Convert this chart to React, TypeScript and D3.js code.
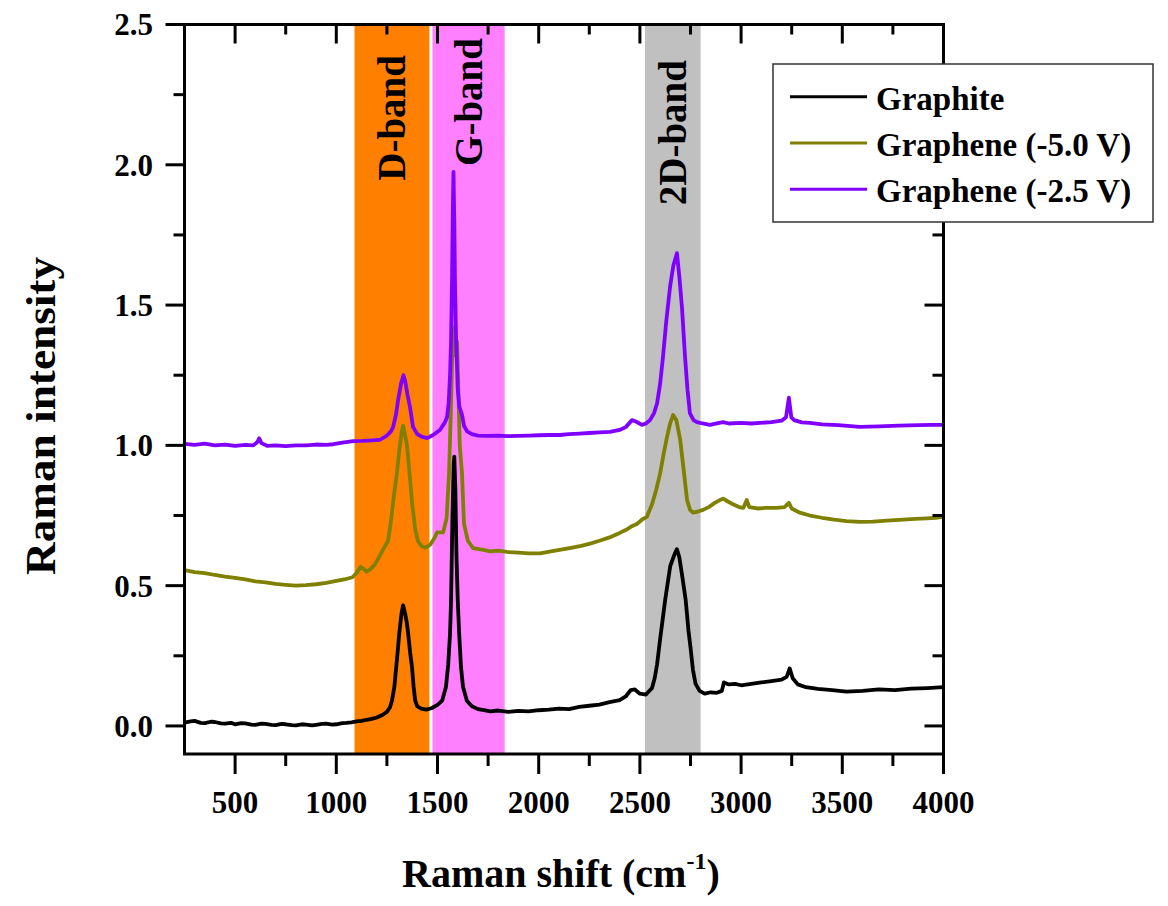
import React from 'react';
import * as d3 from 'd3';

type Pt = [number, number];

// Raman spectra: [wavenumber (cm^-1), intensity]
const GRAPHITE: Pt[] = [
  [250, 0.012], [280, 0.016], [300, 0.018], [330, 0.011], [350, 0.010], [380, 0.015], [400, 0.014],
  [430, 0.009], [450, 0.008], [480, 0.011], [500, 0.006], [530, 0.010], [550, 0.009], [580, 0.005],
  [600, 0.004], [630, 0.008], [650, 0.007], [680, 0.004], [700, 0.003], [730, 0.007], [750, 0.006],
  [780, 0.003], [800, 0.002], [830, 0.006], [850, 0.005], [880, 0.002], [900, 0.004], [930, 0.007],
  [950, 0.008], [980, 0.005], [1000, 0.006], [1030, 0.010], [1050, 0.011], [1075, 0.013], [1100, 0.016],
  [1125, 0.018], [1150, 0.022], [1175, 0.025], [1200, 0.030], [1230, 0.040], [1250, 0.050], [1265, 0.066],
  [1275, 0.090], [1287, 0.140], [1296, 0.21], [1304, 0.27], [1311, 0.33], [1322, 0.40], [1330, 0.43],
  [1340, 0.40], [1348, 0.37], [1355, 0.33], [1365, 0.26], [1374, 0.21], [1382, 0.14], [1390, 0.09],
  [1400, 0.070], [1420, 0.062], [1445, 0.058], [1470, 0.063], [1500, 0.075], [1523, 0.09], [1542, 0.14],
  [1553, 0.22], [1562, 0.33], [1567, 0.45], [1574, 0.75], [1580, 0.93], [1583, 0.96], [1588, 0.85],
  [1594, 0.60], [1600, 0.45], [1607, 0.33], [1616, 0.21], [1626, 0.14], [1645, 0.09], [1670, 0.070],
  [1700, 0.060], [1730, 0.056], [1760, 0.052], [1800, 0.055], [1850, 0.050], [1900, 0.054], [1950, 0.052],
  [2000, 0.056], [2050, 0.058], [2100, 0.062], [2150, 0.060], [2200, 0.068], [2250, 0.072], [2300, 0.076],
  [2350, 0.085], [2400, 0.092], [2430, 0.105], [2455, 0.128], [2475, 0.130], [2500, 0.115], [2530, 0.112],
  [2560, 0.135], [2573, 0.17], [2585, 0.22], [2600, 0.31], [2625, 0.45], [2650, 0.57], [2670, 0.61],
  [2683, 0.63], [2695, 0.60], [2710, 0.53], [2726, 0.45], [2740, 0.34], [2750, 0.28], [2762, 0.20],
  [2775, 0.15], [2795, 0.125], [2820, 0.115], [2850, 0.120], [2880, 0.118], [2905, 0.125], [2915, 0.155],
  [2940, 0.148], [2970, 0.150], [3000, 0.145], [3050, 0.150], [3100, 0.155], [3150, 0.160], [3200, 0.165],
  [3225, 0.175], [3240, 0.205], [3255, 0.170], [3280, 0.148], [3320, 0.138], [3380, 0.132], [3450, 0.128],
  [3520, 0.122], [3600, 0.125], [3680, 0.130], [3760, 0.128], [3840, 0.133], [3920, 0.135], [4000, 0.138],
];

const GRAPHENE_5V: Pt[] = [
  [250, 0.555], [300, 0.548], [350, 0.545], [400, 0.538], [450, 0.532], [500, 0.528], [550, 0.522],
  [600, 0.515], [650, 0.512], [700, 0.506], [750, 0.503], [800, 0.500], [850, 0.502], [900, 0.505],
  [950, 0.510], [1000, 0.517], [1040, 0.522], [1080, 0.530], [1100, 0.545], [1120, 0.567], [1135, 0.560],
  [1150, 0.550], [1170, 0.560], [1190, 0.575], [1210, 0.600], [1232, 0.630], [1256, 0.660], [1270, 0.730],
  [1282, 0.805], [1299, 0.900], [1314, 1.000], [1324, 1.050], [1330, 1.070], [1336, 1.050], [1349, 1.000],
  [1362, 0.900], [1375, 0.790], [1390, 0.700], [1403, 0.660], [1420, 0.642], [1440, 0.635], [1463, 0.645],
  [1485, 0.670], [1498, 0.690], [1515, 0.690], [1528, 0.690], [1545, 0.740], [1557, 0.900], [1565, 1.100],
  [1572, 1.300], [1578, 1.420], [1584, 1.340], [1590, 1.320], [1597, 1.370], [1603, 1.200], [1610, 1.000],
  [1621, 0.900], [1631, 0.720], [1650, 0.660], [1676, 0.634], [1720, 0.628], [1760, 0.622], [1800, 0.625],
  [1844, 0.620], [1900, 0.618], [1950, 0.615], [2007, 0.615], [2060, 0.622], [2110, 0.628], [2160, 0.635],
  [2210, 0.642], [2254, 0.650], [2300, 0.660], [2350, 0.672], [2400, 0.688], [2435, 0.700], [2460, 0.712],
  [2485, 0.720], [2510, 0.735], [2534, 0.745], [2560, 0.790], [2580, 0.840], [2600, 0.900], [2620, 0.980],
  [2634, 1.030], [2650, 1.080], [2664, 1.108], [2680, 1.090], [2699, 1.020], [2715, 0.920], [2733, 0.805],
  [2748, 0.770], [2763, 0.760], [2790, 0.765], [2812, 0.770], [2840, 0.780], [2870, 0.795], [2895, 0.805],
  [2911, 0.810], [2935, 0.800], [2960, 0.790], [2990, 0.780], [3011, 0.777], [3028, 0.805], [3040, 0.780],
  [3080, 0.775], [3120, 0.777], [3176, 0.777], [3215, 0.780], [3236, 0.795], [3250, 0.775], [3290, 0.760],
  [3340, 0.750], [3400, 0.742], [3460, 0.735], [3520, 0.730], [3587, 0.727], [3650, 0.728], [3720, 0.732],
  [3800, 0.735], [3860, 0.738], [3919, 0.740], [3960, 0.742], [4000, 0.745],
];

const GRAPHENE_2_5V: Pt[] = [
  [250, 1.005], [300, 1.002], [350, 1.006], [400, 1.000], [450, 1.003], [500, 0.998], [550, 1.002],
  [590, 1.000], [610, 1.012], [619, 1.025], [630, 1.008], [660, 0.998], [700, 1.000], [750, 0.997],
  [800, 1.000], [850, 1.000], [900, 1.003], [950, 1.002], [985, 1.004], [1030, 1.010], [1084, 1.015],
  [1130, 1.016], [1180, 1.018], [1216, 1.020], [1250, 1.035], [1270, 1.050], [1281, 1.066], [1295, 1.110],
  [1305, 1.160], [1320, 1.220], [1332, 1.250], [1340, 1.230], [1352, 1.180], [1364, 1.137], [1379, 1.066],
  [1400, 1.040], [1424, 1.030], [1450, 1.026], [1478, 1.037], [1512, 1.055], [1535, 1.080], [1547, 1.100],
  [1555, 1.150], [1562, 1.250], [1567, 1.375], [1572, 1.600], [1576, 1.850], [1579, 1.975], [1583, 1.800],
  [1587, 1.550], [1592, 1.375], [1600, 1.200], [1608, 1.137], [1621, 1.110], [1631, 1.070], [1646, 1.050],
  [1670, 1.040], [1700, 1.035], [1750, 1.034], [1800, 1.035], [1850, 1.033], [1900, 1.034], [1950, 1.035],
  [2000, 1.036], [2050, 1.037], [2105, 1.037], [2150, 1.040], [2200, 1.042], [2250, 1.044], [2300, 1.046],
  [2352, 1.048], [2400, 1.055], [2430, 1.065], [2461, 1.090], [2480, 1.085], [2510, 1.073], [2530, 1.078],
  [2550, 1.090], [2570, 1.115], [2585, 1.150], [2600, 1.220], [2614, 1.315], [2630, 1.440], [2649, 1.565],
  [2665, 1.640], [2683, 1.685], [2695, 1.600], [2708, 1.490], [2723, 1.315], [2735, 1.200], [2747, 1.115],
  [2765, 1.090], [2782, 1.083], [2810, 1.078], [2846, 1.073], [2880, 1.078], [2911, 1.083], [2940, 1.078],
  [3000, 1.080], [3050, 1.078], [3094, 1.080], [3150, 1.083], [3200, 1.088], [3222, 1.100], [3236, 1.170],
  [3248, 1.100], [3262, 1.090], [3300, 1.082], [3340, 1.080], [3400, 1.075], [3480, 1.072], [3587, 1.066],
  [3680, 1.068], [3780, 1.070], [3880, 1.072], [3940, 1.073], [4000, 1.073],
];

const SERIES_NAMES = ['Graphite', 'Graphene (-5.0 V)', 'Graphene (-2.5 V)'];
const SERIES_COLORS = ['#000000', '#808000', '#8000FF'];
const SERIES_DATA = [GRAPHITE, GRAPHENE_5V, GRAPHENE_2_5V];
// drawing order: olive first, then black, then violet on top
const DRAW_ORDER = [1, 0, 2];

const BAND_LABELS = ['D-band', 'G-band', '2D-band'];
const BAND_FROM = [1090, 1475, 2525];
const BAND_TO = [1460, 1832, 2800];
const BAND_COLORS = ['#FF8000', '#FF80FF', '#C0C0C0'];

const X_DOMAIN: [number, number] = [250, 4000];
const Y_DOMAIN: [number, number] = [-0.1, 2.5];
const X_TICKS = [500, 1000, 1500, 2000, 2500, 3000, 3500, 4000];
const X_MINOR = [750, 1250, 1750, 2250, 2750, 3250, 3750];
const Y_TICKS = [0, 0.5, 1.0, 1.5, 2.0, 2.5];
const Y_MINOR = [0.25, 0.75, 1.25, 1.75, 2.25];

const FONT = "'Liberation Serif', 'Times New Roman', Times, serif";

export default function App() {
  const W = 1168;
  const H = 906;
  const left = 184.5, right = 943.5, top = 24.5, bottom = 754;

  const x = d3.scaleLinear().domain(X_DOMAIN).range([left, right]);
  const y = d3.scaleLinear().domain(Y_DOMAIN).range([bottom, top]);
  const line = d3.line<Pt>().x(d => x(d[0])).y(d => y(d[1]));

  const majorLen = 19;
  const minorLen = 11;
  const bandLabelTop = [55, 38, 60];

  return (
    <svg
      width={W}
      height={H}
      style={{ position: 'absolute', left: 0, top: 0, background: '#fff' }}
      fontFamily={FONT}
      fontWeight="bold"
    >
      <defs>
        <clipPath id="plot-clip">
          <rect x={left} y={top} width={right - left} height={bottom - top} />
        </clipPath>
      </defs>

      {/* highlighted Raman bands */}
      {BAND_LABELS.map((label, i) => {
        const x0 = x(BAND_FROM[i]);
        const x1 = x(BAND_TO[i]);
        return <rect key={label} x={x0} y={top} width={x1 - x0} height={bottom - top} fill={BAND_COLORS[i]} />;
      })}

      {/* spectra */}
      <g clipPath="url(#plot-clip)">
        {DRAW_ORDER.map(i => (
          <path
            key={SERIES_NAMES[i]}
            d={line(SERIES_DATA[i]) || ''}
            fill="none"
            stroke={SERIES_COLORS[i]}
            strokeWidth={3.8}
            strokeLinejoin="round"
          />
        ))}
      </g>

      {/* band labels */}
      {BAND_LABELS.map((label, i) => {
        const cx = (x(BAND_FROM[i]) + x(BAND_TO[i])) / 2;
        const ty = bandLabelTop[i];
        return (
          <text
            key={label}
            transform={`translate(${cx},${ty}) rotate(-90)`}
            textAnchor="end"
            dy="0.34em"
            fontSize={39}
            fill="#000"
          >
            {label}
          </text>
        );
      })}

      {/* frame */}
      <rect x={left} y={top} width={right - left} height={bottom - top} fill="none" stroke="#000" strokeWidth={3} />

      {/* x ticks */}
      {X_TICKS.map(t => (
        <g key={`xt${t}`}>
          <line x1={x(t)} x2={x(t)} y1={bottom} y2={bottom + majorLen + 1} stroke="#000" strokeWidth={3} />
          <line x1={x(t)} x2={x(t)} y1={top} y2={top + majorLen} stroke="#000" strokeWidth={3} />
          <text x={x(t)} y={813} textAnchor="middle" fontSize={31} fill="#000">
            {t}
          </text>
        </g>
      ))}
      {X_MINOR.map(t => (
        <g key={`xm${t}`}>
          <line x1={x(t)} x2={x(t)} y1={bottom} y2={bottom + minorLen + 1} stroke="#000" strokeWidth={3} />
          <line x1={x(t)} x2={x(t)} y1={top} y2={top + minorLen - 1} stroke="#000" strokeWidth={3} />
        </g>
      ))}

      {/* y ticks */}
      {Y_TICKS.map(t => (
        <g key={`yt${t}`}>
          <line x1={left - majorLen} x2={left} y1={y(t)} y2={y(t)} stroke="#000" strokeWidth={3} />
          <line x1={right - majorLen} x2={right} y1={y(t)} y2={y(t)} stroke="#000" strokeWidth={3} />
          <text x={153} y={y(t)} dy="0.35em" textAnchor="end" fontSize={31} fill="#000">
            {d3.format('.1f')(t)}
          </text>
        </g>
      ))}
      {Y_MINOR.map(t => (
        <g key={`ym${t}`}>
          <line x1={left - minorLen} x2={left} y1={y(t)} y2={y(t)} stroke="#000" strokeWidth={3} />
          <line x1={right - minorLen} x2={right} y1={y(t)} y2={y(t)} stroke="#000" strokeWidth={3} />
        </g>
      ))}

      {/* axis titles */}
      <text
        transform="translate(55,416) rotate(-90)"
        textAnchor="middle"
        fontSize={43}
        textLength={318}
        lengthAdjust="spacingAndGlyphs"
        fill="#000"
      >
        Raman intensity
      </text>
      <text x={402} y={887} fontSize={40} fill="#000">
        Raman shift (cm
        <tspan fontSize={24} dy={-18}>-1</tspan>
        <tspan dy={18}>)</tspan>
      </text>

      {/* legend */}
      <g>
        <rect x={773} y={64} width={380} height={158} fill="#fff" stroke="#333" strokeWidth={1.5} />
        {SERIES_NAMES.map((name, i) => {
          const ly = 96.7 + i * 46.3;
          return (
            <g key={name}>
              <line x1={790} x2={867} y1={ly} y2={ly} stroke={SERIES_COLORS[i]} strokeWidth={3} />
              <text x={876} y={ly + 13} fontSize={33} fill="#000">
                {name}
              </text>
            </g>
          );
        })}
      </g>
    </svg>
  );
}
